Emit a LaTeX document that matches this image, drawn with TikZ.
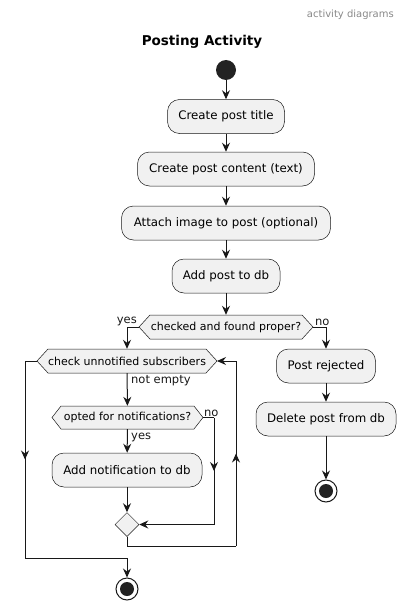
\documentclass[tikz,border=0pt]{standalone}
\usepackage{fontspec}
\setmainfont{DejaVu Sans}
\usetikzlibrary{arrows.meta,decorations.markings,calc,shapes.geometric}
\definecolor{boxfill}{HTML}{F1F1F1}
\definecolor{lineclr}{HTML}{181818}
\definecolor{hdr}{HTML}{888888}
\definecolor{dot}{HTML}{222222}
\begin{document}
\begin{tikzpicture}[x=1pt,y=-1pt,
  tip/.tip={Stealth[length=9pt,width=8pt,inset=3pt]},
  act/.style={draw=lineclr, line width=0.5pt, fill=boxfill, rounded corners=12pt,
    minimum height=34pt, inner sep=0pt, font=\fontsize{11.8}{14}\selectfont},
  hexa/.style={draw=lineclr, line width=0.5pt, fill=boxfill},
  dectext/.style={inner sep=0pt, minimum height=24pt, font=\fontsize{11}{13}\selectfont},
  lbl/.style={inner sep=1pt, font=\fontsize{11.5}{13}\selectfont, text=lineclr},
  conn/.style={draw=lineclr, line width=1pt},
  arr/.style={conn, -tip},
  midarr/.style={conn, postaction={decorate},
    decoration={markings, mark=at position 0.5 with {\arrow{tip}}}},
  startdot/.style={circle, fill=dot, inner sep=0pt, minimum size=20pt},
  enddot/.style={circle, draw=lineclr, line width=1pt, fill=white, inner sep=0pt, minimum size=22pt,
    path picture={\fill[dot] (path picture bounding box.center) circle[radius=7pt];}}
]
\useasboundingbox (0,0) rectangle (406,610);

% header and title
\node[anchor=east, inner sep=0pt, text=hdr, font=\fontsize{10}{12}\selectfont] (hd) at (394,15) {activity diagrams};
\node[inner sep=0pt, font=\fontsize{13.5}{16}\selectfont\bfseries] (title) at (202,42) {Posting Activity};

% main column
\node[startdot] (start) at (226,70) {};
\node[act, minimum width=117pt] (b1) at (226,116.5) {Create post title};
\node[act, minimum width=177pt] (b2) at (226,169) {Create post content (text)};
\node[act, minimum width=209pt] (b3) at (226,223) {Attach image to post (optional)};
\node[act, minimum width=108pt] (b4) at (226,276) {Add post to db};

% decision 1
\draw[hexa] (139,327) -- (150,315) -- (302,315) -- (313,327) -- (302,339) -- (150,339) -- cycle;
\node[dectext, minimum width=152pt] (d1) at (226,327) {checked and found proper?};
\coordinate (d1l) at (139,327);
\coordinate (d1r) at (313,327);

% right branch
\node[act, minimum width=99pt] (pr) at (326,366) {Post rejected};
\node[act, minimum width=140pt] (del) at (326,419) {Delete post from db};
\node[enddot] (end1) at (326,491) {};

% left branch: loop
\draw[hexa] (37,361) -- (48,349) -- (206,349) -- (217,361) -- (206,373) -- (48,373) -- cycle;
\node[dectext, minimum width=158pt] (d2) at (127,361) {check unnotified subscribers};
\coordinate (d2l) at (37,361);
\coordinate (d2r) at (217,361);

\draw[hexa] (52,417.5) -- (61,406) -- (194,406) -- (203,417.5) -- (194,429) -- (61,429) -- cycle;
\node[dectext, minimum width=133pt, minimum height=23pt] (d3) at (127.5,417.5) {opted for notifications?};
\coordinate (d3l) at (52,417.5);
\coordinate (d3r) at (203,417.5);

\node[act, minimum width=150pt] (an) at (127,470) {Add notification to db};
\node[draw=lineclr, line width=0.5pt, fill=boxfill, diamond, minimum size=24pt, inner sep=0pt, shape aspect=1] (m) at (127,524.5) {};
\node[enddot] (end2) at (127,589) {};

% coordinates for loops
\coordinate (nr1) at (214,417.5);
\coordinate (nr2) at (214,524.5);
\coordinate (lp1) at (127,546);
\coordinate (lp2) at (236,546);
\coordinate (lp3) at (236,361);
\coordinate (ex1) at (25,361);
\coordinate (ex2) at (25,558);

% connectors main
\draw[arr] (start) -- (b1);
\draw[arr] (b1) -- (b2);
\draw[arr] (b2) -- (b3);
\draw[arr] (b3) -- (b4);
\draw[arr] (b4) -- (d1);
\draw[arr] (d1l) -| (d2.north);
\node[lbl, anchor=south east] (yes1) at (138,327) {yes};
\draw[arr] (d1r) -| (pr.north);
\node[lbl, anchor=south west] (no1) at (314,327) {no};
\draw[arr] (pr) -- (del);
\draw[arr] (del) -- (end1);

% loop body
\draw[arr] (d2) -- (d3);
\node[lbl, anchor=west] (ne) at (130,381) {not empty};
\draw[arr] (d3) -- (an);
\node[lbl, anchor=west] (yes2) at (130,437) {yes};
\node[lbl, anchor=south west] (no2) at (203,417.5) {no};
\draw[arr] (an) -- (m);
\draw[conn] (d3r) -- (nr1);
\draw[midarr] (nr1) -- (nr2);
\draw[arr] (nr2) -- (m.east);
\draw[conn] (m.south) -- (lp1) -- (lp2);
\draw[midarr] (lp2) -- (lp3);
\draw[arr] (lp3) -- (d2r);

% loop exit
\draw[conn] (d2l) -- (ex1);
\draw[midarr] (ex1) -- (ex2);
\draw[arr] (ex2) -| (end2);
\end{tikzpicture}
\end{document}
